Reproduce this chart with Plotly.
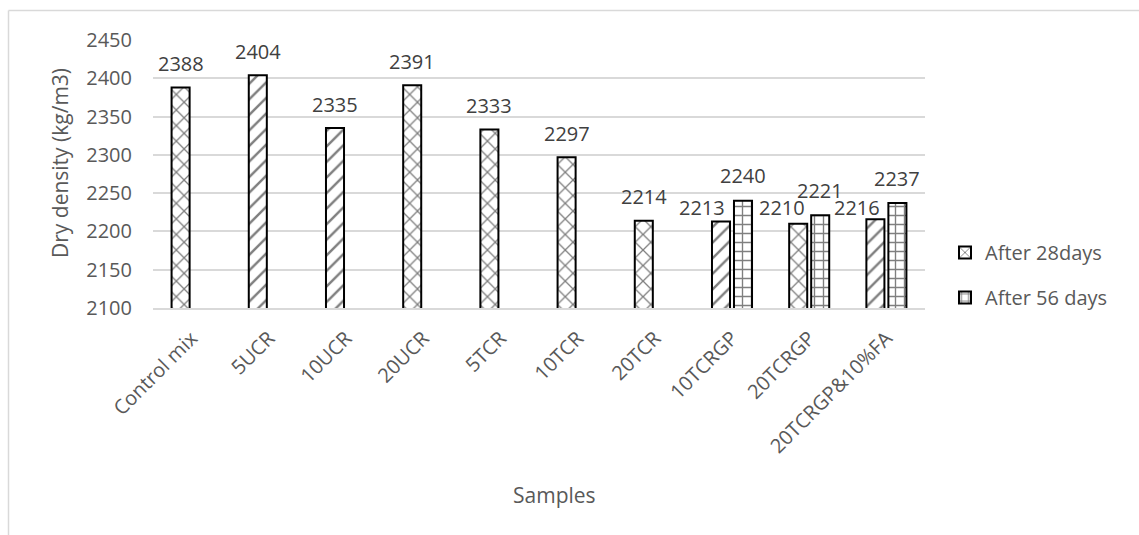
import plotly.graph_objects as go

# Sample mixes and their dry densities (kg/m3)
samples = ["Control mix", "5UCR", "10UCR", "20UCR", "5TCR", "10TCR", "20TCR",
           "10TCRGP", "20TCRGP", "20TCRGP&10%FA"]
density_28d = [2388, 2404, 2335, 2391, 2333, 2297, 2214, 2213, 2210, 2216]
density_56d = [None, None, None, None, None, None, None, 2240, 2221, 2237]
y_ticks = [2100, 2150, 2200, 2250, 2300, 2350, 2400, 2450]

# Hatch texture per bar of the 28-day series
hatch_28d = ["x", "/", "/", "x", "x", "x", "x", "/", "x", "/"]

# Label nudges (px) where neighbouring value labels would collide
label_nudge_28d = {"10TCRGP": (-19, -10), "20TCRGP": (-16, -8), "20TCRGP&10%FA": (-18, -12)}

W, H = 1139, 535
L, R, T, B = 153, 214, 40, 227
PW, PH = W - L - R, H - T - B

FONT = "Open Sans, Liberation Sans, Arial, sans-serif"
GREY_TXT = "#595959"
LABEL_TXT = "#404040"
GRID = "#d9d9d9"


def px_x(px):
    return (px - L) / PW


def px_y(py):
    return (H - B - py) / PH


fig = go.Figure()
fig.add_trace(go.Bar(
    x=samples, y=density_28d, name="After 28days", legendgroup="a",
    marker=dict(color="white", line=dict(color="black", width=2),
                pattern=dict(shape=hatch_28d, fgcolor="black", bgcolor="white",
                             size=11, solidity=0.22, fillmode="overlay")),
))
fig.add_trace(go.Bar(
    x=samples, y=density_56d, name="After 56 days", legendgroup="b",
    marker=dict(color="white", line=dict(color="black", width=2),
                pattern=dict(shape="+", fgcolor="black", bgcolor="white",
                             size=9, solidity=0.28, fillmode="overlay")),
))

# Value labels above each bar
annotations = []
for s, v in zip(samples, density_28d):
    dx, dy = label_nudge_28d.get(s, (0, 0))
    annotations.append(dict(x=s, y=v, xref="x", yref="y", text=str(v), showarrow=False,
                            xshift=-11 + dx, yshift=24 + dy, yanchor="middle",
                            font=dict(family=FONT, size=20, color=LABEL_TXT)))
for s, v in zip(samples, density_56d):
    if v is None:
        continue
    annotations.append(dict(x=s, y=v, xref="x", yref="y", text=str(v), showarrow=False,
                            xshift=11, yshift=25, yanchor="middle",
                            font=dict(family=FONT, size=20, color=LABEL_TXT)))

# Axis titles
annotations.append(dict(x=px_x(60), y=px_y(163), xref="paper", yref="paper",
                        text="Dry density (kg/m3)", textangle=-90, showarrow=False,
                        xanchor="center", yanchor="middle",
                        font=dict(family=FONT, size=21, color=GREY_TXT)))
annotations.append(dict(x=px_x(554), y=px_y(495), xref="paper", yref="paper",
                        text="Samples", showarrow=False, xanchor="center", yanchor="middle",
                        font=dict(family=FONT, size=21, color=GREY_TXT)))

# Chart-area border (top and left edges)
shapes = [
    dict(type="line", xref="paper", yref="paper", x0=px_x(8.5), x1=px_x(W + 5),
         y0=px_y(10.5), y1=px_y(10.5), line=dict(color=GRID, width=1.5)),
    dict(type="line", xref="paper", yref="paper", x0=px_x(8.5), x1=px_x(8.5),
         y0=px_y(10.5), y1=px_y(H + 5), line=dict(color=GRID, width=1.5)),
]

fig.update_layout(
    width=W, height=H,
    margin=dict(l=L, r=R, t=T, b=B),
    paper_bgcolor="white", plot_bgcolor="white",
    barmode="group", bargap=0.43, bargroupgap=0.18,
    font=dict(family=FONT, size=20, color=GREY_TXT),
    showlegend=True,
    legend=dict(x=px_x(945), y=px_y(275), xanchor="left", yanchor="middle",
                traceorder="grouped", tracegroupgap=16,
                font=dict(family=FONT, size=20, color=GREY_TXT),
                bgcolor="rgba(0,0,0,0)"),
    annotations=annotations,
    shapes=shapes,
)
fig.update_xaxes(
    type="category", tickangle=-45, showgrid=False, showline=True,
    linecolor=GRID, linewidth=1.5, ticks="outside", ticklen=9, tickcolor="rgba(0,0,0,0)",
    tickfont=dict(family=FONT, size=20, color=GREY_TXT),
)
fig.update_yaxes(
    range=[2100, 2450], tickvals=y_ticks, showgrid=True, gridcolor=GRID, gridwidth=1.5,
    zeroline=False, showline=False, ticks="", ticklabelstandoff=20,
    tickfont=dict(family=FONT, size=20, color=GREY_TXT),
)

fig.write_html("out.html")
